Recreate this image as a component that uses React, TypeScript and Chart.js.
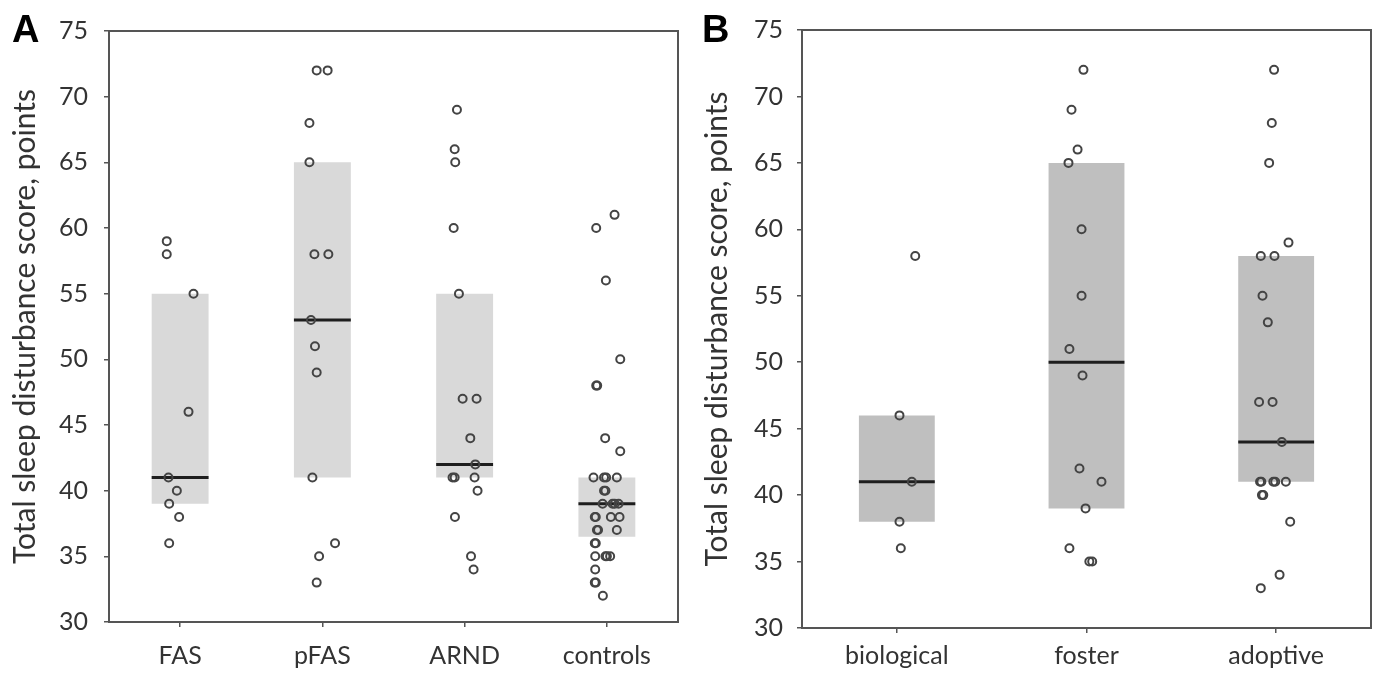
import React, { useEffect, useRef } from 'react';
import { Chart, registerables } from 'chart.js';

Chart.register(...registerables);

// ---------- data ----------
const yTickValues = [30, 35, 40, 45, 50, 55, 60, 65, 70, 75];
const yTitle = 'Total sleep disturbance score, points';

// Panel A
const groupsA = ['FAS', 'pFAS', 'ARND', 'controls'];
const boxLowA = [39, 41, 41, 36.5];
const boxHighA = [55, 65, 55, 41];
const medianA = [41, 53, 42, 39];

const fasValues = [59, 58, 55, 46, 41, 40, 39, 38, 36];
const fasJitter = [-0.094, -0.094, 0.094, 0.059, -0.082, -0.023, -0.077, -0.007, -0.077];
const pfasValues = [72, 72, 68, 65, 58, 58, 53, 51, 49, 41, 36, 35, 33];
const pfasJitter = [-0.04, 0.037, -0.091, -0.091, -0.056, 0.042, -0.08, -0.052, -0.04, -0.07, 0.089, -0.023, -0.04];
const arndValues = [69, 66, 65, 60, 55, 47, 47, 44, 42, 41, 41, 41, 40, 38, 35, 34];
const arndJitter = [-0.054, -0.07, -0.066, -0.077, -0.04, -0.014, 0.084, 0.04, 0.075, -0.085, -0.07, 0.07, 0.091, -0.068, 0.045, 0.063];
const controlsValues = [61, 60, 56, 50, 48, 48, 44, 43, 41, 41, 41, 41, 40, 40, 39, 39, 39, 39, 38, 38, 38, 38, 37, 37, 37, 36, 36, 35, 35, 35, 35, 34, 33, 33, 32];
const controlsJitter = [0.054, -0.075, -0.007, 0.094, -0.075, -0.068, -0.012, 0.094, -0.094, -0.02, -0.005, 0.07, -0.02, -0.01, -0.03, 0.04, 0.055, 0.082, -0.085, -0.078, 0.028, 0.089, -0.07, -0.062, 0.07, -0.085, -0.078, -0.082, -0.01, 0.0, 0.023, -0.082, -0.085, -0.078, -0.028];

// Panel B
const groupsB = ['biological', 'foster', 'adoptive'];
const boxLowB = [38, 39, 41];
const boxHighB = [46, 65, 58];
const medianB = [41, 50, 44];

const biologicalValues = [58, 46, 41, 38, 36];
const biologicalJitter = [0.097, 0.014, 0.079, 0.014, 0.021];
const fosterValues = [72, 69, 66, 65, 60, 55, 51, 49, 42, 41, 39, 36, 35, 35];
const fosterJitter = [-0.016, -0.079, -0.047, -0.095, -0.026, -0.026, -0.09, -0.021, -0.037, 0.079, -0.005, -0.09, 0.015, 0.03];
const adoptiveValues = [72, 68, 65, 59, 58, 58, 55, 53, 47, 47, 44, 41, 41, 41, 41, 41, 40, 40, 38, 34, 33];
const adoptiveJitter = [-0.011, -0.023, -0.037, 0.065, -0.081, -0.009, -0.072, -0.044, -0.09, -0.019, 0.03, -0.085, -0.078, -0.015, -0.005, 0.051, -0.075, -0.068, 0.074, 0.018, -0.081];

// ---------- chart ----------
const FONT = 'Lato, "Open Sans", sans-serif';
const TEXT = '#333333';
const AXIS = '#555555';

const framePlugin = {
  id: 'frame',
  afterDraw(chart: any) {
    const { ctx, chartArea } = chart;
    ctx.save();
    ctx.strokeStyle = AXIS;
    ctx.lineWidth = 2;
    ctx.strokeRect(chartArea.left, chartArea.top, chartArea.right - chartArea.left, chartArea.bottom - chartArea.top);
    ctx.restore();
  },
};

type PanelProps = {
  letter: string;
  labels: string[];
  lows: number[];
  highs: number[];
  medians: number[];
  values: number[][];
  jitters: number[][];
  boxColor: string;
  left: number;
  width: number;
  area: { left: number; right: number; top: number; bottom: number };
  xPad: number;
  yPad: number;
  titlePad: number;
};

function Panel(p: PanelProps) {
  const ref = useRef<HTMLCanvasElement>(null);
  useEffect(() => {
    if (!ref.current) return;
    const n = p.labels.length;
    const points: { x: number; y: number }[] = [];
    p.values.forEach((vals, i) => {
      vals.forEach((v, j) => points.push({ x: i + p.jitters[i][j], y: v }));
    });
    const medianSets = p.medians.map((m, i) => ({
      type: 'line' as const,
      xAxisID: 'xs',
      data: [{ x: i - 0.2, y: m }, { x: i + 0.2, y: m }],
      borderColor: '#1e1e1e',
      borderWidth: 3,
      pointRadius: 0,
      order: 2,
    }));
    const chart = new Chart(ref.current, {
      type: 'bar',
      data: {
        labels: p.labels,
        datasets: [
          {
            type: 'bar',
            xAxisID: 'x',
            data: p.lows.map((lo, i) => [lo, p.highs[i]]) as any,
            backgroundColor: p.boxColor,
            borderWidth: 0,
            grouped: false,
            barPercentage: 0.4,
            categoryPercentage: 1,
            order: 3,
          } as any,
          ...medianSets,
          {
            type: 'scatter',
            xAxisID: 'xs',
            data: points,
            pointRadius: 4,
            pointHoverRadius: 4,
            borderWidth: 2,
            borderColor: '#444444',
            backgroundColor: 'rgba(0,0,0,0)',
            showLine: false,
            order: 1,
          } as any,
        ],
      },
      options: {
        responsive: false,
        animation: false,
        events: [],
        layout: { padding: { left: 0, top: p.area.top, right: p.width - p.area.right, bottom: 0 } },
        plugins: { legend: { display: false }, tooltip: { enabled: false } },
        scales: {
          x: {
            type: 'category',
            offset: true,
            border: { display: false },
            grid: { display: true, offset: false, drawOnChartArea: false, drawTicks: true, tickLength: 5, color: AXIS, lineWidth: 1.5 },
            ticks: { color: TEXT, font: { family: FONT, size: 25 }, padding: p.xPad, maxRotation: 0 },
            afterFit: (s: any) => { s.height = 687 - p.area.bottom; },
          },
          xs: { type: 'linear', display: false, offset: false, bounds: 'data', min: -0.5, max: n - 0.5, grid: { offset: false } },
          y: {
            min: 30,
            max: 75,
            border: { display: false },
            grid: { display: true, drawOnChartArea: false, drawTicks: true, tickLength: 5, color: AXIS, lineWidth: 1.5 },
            afterBuildTicks: (s: any) => { s.ticks = yTickValues.map((v) => ({ value: v })); },
            ticks: { color: TEXT, font: { family: FONT, size: 25 }, padding: p.yPad },
            title: { display: true, text: yTitle, color: TEXT, font: { family: FONT, size: 30 }, padding: { top: p.titlePad, bottom: 0 } },
            afterFit: (s: any) => { s.width = p.area.left; },
          },
        },
      } as any,
      plugins: [framePlugin],
    });
    return () => chart.destroy();
  }, []);
  return (
    <div style={{ position: 'absolute', left: p.left, top: 0, width: p.width, height: 687 }}>
      <canvas ref={ref} width={p.width} height={687} style={{ display: 'block' }} />
      <div style={{ position: 'absolute', left: 12, top: 8, fontFamily: '"Liberation Sans", Arial, sans-serif', fontWeight: 'bold', fontSize: 38, color: '#000' }}>{p.letter}</div>
    </div>
  );
}

export default function App() {
  return (
    <div style={{ position: 'fixed', left: 0, top: 0, width: 1377, height: 687, background: '#fff', overflow: 'hidden' }}>
      <Panel
        letter="A"
        labels={groupsA}
        lows={boxLowA}
        highs={boxHighA}
        medians={medianA}
        values={[fasValues, pfasValues, arndValues, controlsValues]}
        jitters={[fasJitter, pfasJitter, arndJitter, controlsJitter]}
        boxColor="#d9d9d9"
        left={0}
        width={690}
        area={{ left: 109, right: 678, top: 29, bottom: 622 }}
        xPad={14}
        yPad={16}
        titlePad={7}
      />
      <Panel
        letter="B"
        labels={groupsB}
        lows={boxLowB}
        highs={boxHighB}
        medians={medianB}
        values={[biologicalValues, fosterValues, adoptiveValues]}
        jitters={[biologicalJitter, fosterJitter, adoptiveJitter]}
        boxColor="#bfbfbf"
        left={690}
        width={687}
        area={{ left: 112, right: 681, top: 30, bottom: 628 }}
        xPad={8}
        yPad={14}
        titlePad={9}
      />
    </div>
  );
}
